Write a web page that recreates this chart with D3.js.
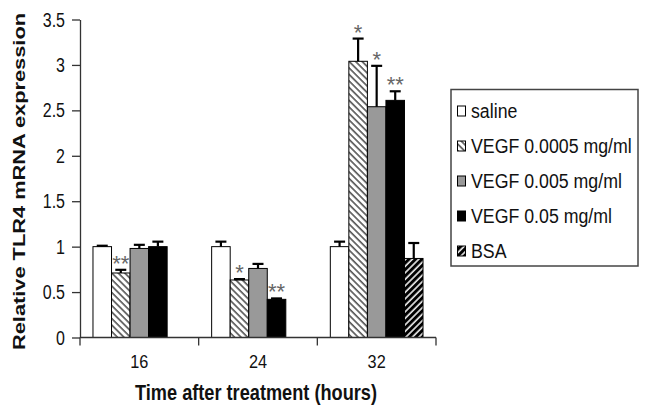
<!DOCTYPE html>
<html><head><meta charset="utf-8">
<script src="https://cdn.jsdelivr.net/npm/d3@7"></script>
<style>body{margin:0;background:#fff}svg{display:block;font-family:"Liberation Sans",Arial,sans-serif}</style>
</head><body><svg id="c" width="649" height="415"></svg>
<script>
const groups = ["16", "24", "32"];
const seriesNames = ["saline", "VEGF 0.0005 mg/ml", "VEGF 0.005 mg/ml", "VEGF 0.05 mg/ml", "BSA"];
const saline    = [1.00, 1.00, 1.00];
const salineErr = [0.01, 0.055, 0.055];
const vegf0005    = [0.71, 0.633, 3.04];
const vegf0005Err = [0.035, 0.01, 0.25];
const vegf005    = [0.98, 0.76, 2.54];
const vegf005Err = [0.04, 0.05, 0.45];
const vegf05    = [1.00, 0.42, 2.61];
const vegf05Err = [0.055, 0.01, 0.10];
const bsa    = [null, null, 0.87];
const bsaErr = [null, null, 0.17];
const stars = [["", "", ""], ["**", "*", "*"], ["", "", "*"], ["", "**", "**"], ["", "", ""]];
const yTicks = [0, 0.5, 1, 1.5, 2, 2.5, 3, 3.5];
const xTitle = "Time after treatment (hours)";
const yTitle = "Relative TLR4 mRNA expression";

const values = [saline, vegf0005, vegf005, vegf05, bsa];
const errs = [salineErr, vegf0005Err, vegf005Err, vegf05Err, bsaErr];
const fills = ["#ffffff", "url(#hatch)", "#999999", "#000000", "url(#bsa)"];

const svg = d3.select("#c");
const defs = svg.append("defs");
const p1 = defs.append("pattern").attr("id", "hatch").attr("patternUnits", "userSpaceOnUse")
  .attr("width", 4.6).attr("height", 4.6).attr("patternTransform", "rotate(-45)");
p1.append("rect").attr("width", 4.6).attr("height", 4.6).attr("fill", "#fff");
p1.append("line").attr("x1", 1).attr("x2", 1).attr("y1", 0).attr("y2", 4.6).attr("stroke", "#3a3a3a").attr("stroke-width", 1.4);
const p2 = defs.append("pattern").attr("id", "bsa").attr("patternUnits", "userSpaceOnUse")
  .attr("width", 4.6).attr("height", 4.6).attr("patternTransform", "rotate(45)");
p2.append("rect").attr("width", 4.6).attr("height", 4.6).attr("fill", "#000");
p2.append("line").attr("x1", 1).attr("x2", 1).attr("y1", 0).attr("y2", 4.6).attr("stroke", "#fff").attr("stroke-width", 1.5);

function fit(sel, f) {
  sel.each(function () {
    const w = this.getComputedTextLength();
    d3.select(this).attr("textLength", w * f).attr("lengthAdjust", "spacingAndGlyphs");
  });
}

const x0 = d3.scaleBand().domain(groups).range([80, 436]).paddingInner(0).paddingOuter(0);
const x1 = d3.scaleBand().domain(seriesNames).range([0, x0.bandwidth()]).paddingInner(0).paddingOuter(0.7);
const y = d3.scaleLinear().domain([0, 3.5]).range([337.5, 19.5]);

// y axis
const ya = svg.append("g").attr("transform", "translate(80,0)")
  .call(d3.axisLeft(y).tickValues(yTicks).tickFormat(d3.format("")).tickSize(8).tickSizeOuter(0).tickPadding(7));
ya.selectAll("path,line").attr("stroke", "#333").attr("stroke-width", 1.3);
ya.selectAll("text").attr("font-size", 20.5).attr("fill", "#111").attr("font-family", null);
fit(ya.selectAll("text"), 0.78);

// bars
const data = [];
seriesNames.forEach((s, si) => groups.forEach((g, gi) => {
  if (values[si][gi] != null) data.push({s, si, g, v: values[si][gi], e: errs[si][gi], star: stars[si][gi]});
}));
const bars = svg.append("g");
bars.selectAll("rect").data(data).join("rect")
  .attr("x", d => x0(d.g) + x1(d.s)).attr("width", x1.bandwidth())
  .attr("y", d => y(d.v)).attr("height", d => y(0) - y(d.v))
  .attr("fill", d => fills[d.si]).attr("stroke", "#000").attr("stroke-width", 1);
const eb = svg.append("g").attr("stroke", "#000").attr("stroke-width", 2.2);
data.forEach(d => {
  const cx = x0(d.g) + x1(d.s) + x1.bandwidth() / 2;
  eb.append("line").attr("x1", cx).attr("x2", cx).attr("y1", y(d.v)).attr("y2", y(d.v + d.e));
  eb.append("line").attr("x1", cx - 5.5).attr("x2", cx + 5.5).attr("y1", y(d.v + d.e)).attr("y2", y(d.v + d.e));
});
svg.append("g").selectAll("text").data(data.filter(d => d.star)).join("text")
  .attr("x", d => x0(d.g) + x1(d.s) + x1.bandwidth() / 2)
  .attr("y", d => y(d.v + d.e) + 1)
  .attr("text-anchor", "middle").attr("font-size", 22).attr("fill", "#666")
  .text(d => d.star);

// x axis
const xg = svg.append("g");
xg.append("line").attr("x1", x0.range()[0]).attr("x2", x0.range()[1]).attr("y1", y(0)).attr("y2", y(0))
  .attr("stroke", "#333").attr("stroke-width", 1.3);
const bounds = groups.map(g => x0(g)).concat([x0.range()[1]]);
xg.selectAll("line.t").data(bounds).join("line").attr("class", "t")
  .attr("x1", d => d).attr("x2", d => d).attr("y1", y(0)).attr("y2", y(0) + 8)
  .attr("stroke", "#333").attr("stroke-width", 1.3);
const xa = svg.append("g").attr("transform", `translate(0,${y(0)})`)
  .call(d3.axisBottom(x0).tickSize(0).tickPadding(17.2));
xa.select(".domain").remove();
xa.selectAll("text").attr("font-size", 18.5).attr("fill", "#111").attr("font-family", null);
fit(xa.selectAll("text"), 0.88);

// titles
const xt = svg.append("text").attr("x", 256).attr("y", 400).attr("text-anchor", "middle")
  .attr("font-size", 22).attr("font-weight", "bold").attr("fill", "#111").text(xTitle);
xt.attr("textLength", 242).attr("lengthAdjust", "spacingAndGlyphs");
svg.append("text").attr("transform", "translate(24.5,181.5) rotate(-90)").attr("text-anchor", "middle")
  .attr("font-size", 16).attr("font-weight", "bold").attr("fill", "#111")
  .attr("textLength", 337).attr("lengthAdjust", "spacingAndGlyphs").text(yTitle);

// legend
const lg = svg.append("g");
lg.append("rect").attr("x", 451).attr("y", 89.5).attr("width", 187).attr("height", 176.5)
  .attr("fill", "#fff").attr("stroke", "#444").attr("stroke-width", 1.5);
seriesNames.forEach((s, i) => {
  const by = 118 + 35 * i;
  lg.append("rect").attr("x", 457.5).attr("y", by - 12).attr("width", 8).attr("height", 10)
    .attr("fill", fills[i]).attr("stroke", "#000").attr("stroke-width", 1);
  const t = lg.append("text").attr("x", 471).attr("y", by).attr("font-size", 19.5).attr("fill", "#111").text(s);
  fit(t, 0.91);
});
</script></body></html>
